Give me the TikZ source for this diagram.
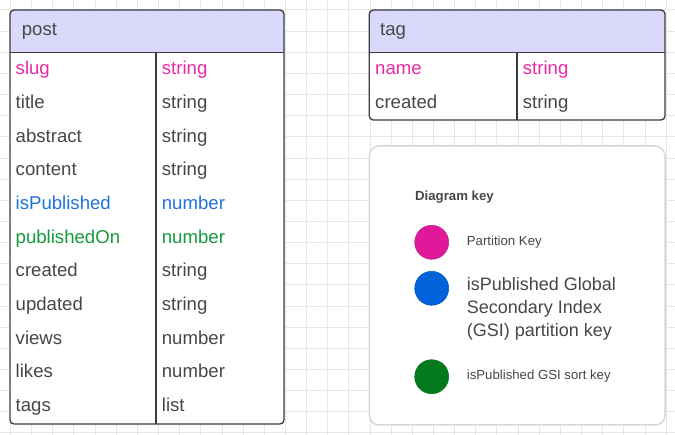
\documentclass[tikz,border=0pt]{standalone}
\usepackage{fontspec}
\setmainfont{Liberation Sans}

\definecolor{gridgray}{HTML}{E6E6E6}
\definecolor{linegray}{HTML}{3A3A42}
\definecolor{headblue}{HTML}{DAD9FC}
\definecolor{txtgray}{HTML}{474747}
\definecolor{pinktxt}{HTML}{EA2AA6}
\definecolor{bluetxt}{HTML}{1F73E0}
\definecolor{greentxt}{HTML}{169A3A}
\definecolor{keypink}{HTML}{E0189A}
\definecolor{keyblue}{HTML}{0062D8}
\definecolor{keygreen}{HTML}{027A1E}
\definecolor{keyborder}{HTML}{D4D7DD}

\tikzset{
  field/.style={anchor=base west, inner sep=0pt, text=txtgray, font=\fontsize{18.6}{22}\selectfont},
  keytext/.style={anchor=base west, inner sep=0pt, text=txtgray, font=\fontsize{13.2}{16}\selectfont},
  tableline/.style={draw=linegray, line width=1.3pt},
  gridline/.style={draw=gridgray, line width=1pt},
  keydot/.style={circle, fill=#1, draw=#1!85!black, line width=0.5pt, minimum size=34pt, inner sep=0pt},
}

\begin{document}
\begin{tikzpicture}[x=1pt, y=-1pt]
  \useasboundingbox (0,0) rectangle (675,435);
  \fill[white] (0,0) rectangle (675,435);
  % background grid
  \foreach \k in {-1,...,31} \draw[gridline] ({10.5+21.15*\k},0) -- ({10.5+21.15*\k},435);
  \foreach \k in {-1,...,20} \draw[gridline] (0,{10+21.15*\k}) -- (675,{10+21.15*\k});

  % table post
  \fill[white, rounded corners=4] (10,10) rectangle (284,424);
  \begin{scope}
    \clip (10,10) rectangle (284,52.7);
    \fill[headblue, rounded corners=4] (10,10) rectangle (284,424);
  \end{scope}
  \draw[tableline, rounded corners=4] (10,10) rectangle (284,424);
  \draw[tableline] (10,52.7) -- (284,52.7);
  \draw[tableline] (156,52.7) -- (156,424);
  \node[field] (post) at (21.7,36) {post};
  \node[field, text=pinktxt] (slug) at (15.5,75) {slug};
  \node[field, text=pinktxt] (slug-t) at (161.7,75) {string};
  \node[field] (title) at (15.5,108.7) {title};
  \node[field] (title-t) at (161.7,108.7) {string};
  \node[field] (abstract) at (15.5,142.3) {abstract};
  \node[field] (abstract-t) at (161.7,142.3) {string};
  \node[field] (content) at (15.5,176) {content};
  \node[field] (content-t) at (161.7,176) {string};
  \node[field, text=bluetxt] (ispub) at (15.5,209.7) {isPublished};
  \node[field, text=bluetxt] (ispub-t) at (161.7,209.7) {number};
  \node[field, text=greentxt] (pubon) at (15.5,243.3) {publishedOn};
  \node[field, text=greentxt] (pubon-t) at (161.7,243.3) {number};
  \node[field] (created) at (15.5,277) {created};
  \node[field] (created-t) at (161.7,277) {string};
  \node[field] (updated) at (15.5,310.7) {updated};
  \node[field] (updated-t) at (161.7,310.7) {string};
  \node[field] (views) at (15.5,344.3) {views};
  \node[field] (views-t) at (161.7,344.3) {number};
  \node[field] (likes) at (15.5,378) {likes};
  \node[field] (likes-t) at (161.7,378) {number};
  \node[field] (tags) at (15.5,411.7) {tags};
  \node[field] (tags-t) at (161.7,411.7) {list};

  % table tag
  \fill[white, rounded corners=4] (369.3,10) rectangle (665,120);
  \begin{scope}
    \clip (369.3,10) rectangle (665,52.7);
    \fill[headblue, rounded corners=4] (369.3,10) rectangle (665,120);
  \end{scope}
  \draw[tableline, rounded corners=4] (369.3,10) rectangle (665,120);
  \draw[tableline] (369.3,52.7) -- (665,52.7);
  \draw[tableline] (517,52.7) -- (517,120);
  \node[field] (tag) at (380,36) {tag};
  \node[field, text=pinktxt] (name) at (375,75) {name};
  \node[field, text=pinktxt] (name-t) at (522.7,75) {string};
  \node[field] (tcreated) at (375,108.7) {created};
  \node[field] (tcreated-t) at (522.7,108.7) {string};

  % diagram key
  \draw[draw=keyborder, line width=1.5pt, fill=white, rounded corners=10] (369.3,146) rectangle (665,425);
  \node[keytext, font=\fontsize{13.2}{16}\selectfont\bfseries] (keytitle) at (415,200.3) {Diagram key};
  \node[keydot=keypink] (dotpk) at (431.7,242.3) {};
  \node[keydot=keyblue] (dotgsi) at (431.7,288.3) {};
  \node[keydot=keygreen] (dotsk) at (431.7,376.7) {};
  \node[keytext] (pk) at (466.7,246) {Partition Key};
  \node[keytext, font=\fontsize{18}{23}\selectfont, align=left] (gsi) at (466.7,336.7)
    {isPublished Global\\Secondary Index\\(GSI) partition key};
  \node[keytext] (sk) at (466.7,380) {isPublished GSI sort key};
\end{tikzpicture}
\end{document}
